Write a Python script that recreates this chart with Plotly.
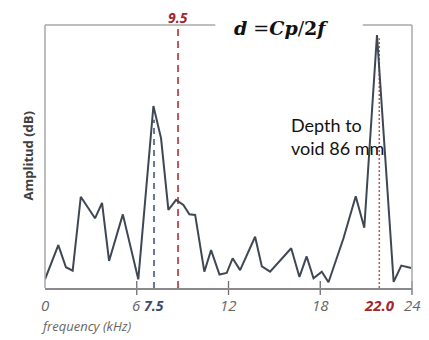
import plotly.graph_objects as go

# spectrum (frequency kHz, amplitude in relative units)
freq = [0, 0.87, 1.37, 1.81, 2.34, 3.27, 3.73, 4.19, 5.09, 6.1, 7.09, 7.59, 8.07, 8.57,
        9.05, 9.44, 9.82, 10.42, 10.86, 11.41, 11.88, 12.27, 12.76, 13.74, 14.18, 14.72,
        16.1, 16.64, 17.11, 17.56, 18.1, 18.54, 19.52, 20.32, 20.88, 21.71, 22.8, 23.3, 23.95]
amp = [3.3, 16.3, 7.9, 6.6, 34.7, 26.5, 32.4, 10.3, 28.0, 3.3, 69.2, 56.9, 29.7, 33.5,
       31.6, 28.0, 27.8, 6.2, 14.4, 5.1, 5.7, 11.3, 6.8, 19.5, 8.2, 6.2,
       15.1, 4.2, 12.0, 3.7, 6.2, 2.2, 18.9, 34.9, 22.9, 96.2, 2.3, 8.5, 7.6]

tick_vals = [0, 6, 12, 18, 24]
tick_text = ["0", "6", "12", "18", "24"]
cross_ticks = [6, 12, 18, 24]

peak1_x, peak1_label, peak1_top = 7.13, "7.5", 64
ref_x, ref_label = 8.7, "9.5"
peak2_x, peak2_label, peak2_top = 21.86, "22.0", 95

fig = go.Figure()

fig.add_trace(go.Scatter(x=[peak1_x, peak1_x], y=[0, peak1_top], mode="lines",
                         line=dict(color="#6a7794", width=2, dash="6px,5px"),
                         hoverinfo="skip"))
fig.add_trace(go.Scatter(x=[ref_x, ref_x], y=[0, 100], mode="lines",
                         line=dict(color="#c0565b", width=2, dash="7px,5px"),
                         hoverinfo="skip"))
fig.add_trace(go.Scatter(x=[peak2_x, peak2_x], y=[0, peak2_top], mode="lines",
                         line=dict(color="#c0565b", width=1.5, dash="2px,2px"),
                         hoverinfo="skip"))
fig.add_trace(go.Scatter(x=freq, y=amp, mode="lines",
                         line=dict(color="#3e4753", width=2)))
fig.add_trace(go.Scatter(x=cross_ticks, y=[0] * len(cross_ticks), mode="markers",
                         marker=dict(symbol="line-ns-open", size=10, color="#6e6e6e",
                                     line=dict(color="#6e6e6e", width=1.3)),
                         cliponaxis=False, hoverinfo="skip"))

frame = dict(color="#a8a8a8", width=1.5)
fig.add_shape(type="line", xref="paper", yref="paper", x0=0, x1=0, y0=0, y1=1, line=frame)
fig.add_shape(type="line", xref="paper", yref="paper", x0=1, x1=1, y0=0, y1=1, line=frame)
fig.add_shape(type="line", xref="paper", yref="paper", x0=0, x1=0.464, y0=1, y1=1, line=frame)
fig.add_shape(type="line", xref="paper", yref="paper", x0=0.866, x1=1, y0=1, y1=1, line=frame)

fig.update_layout(
    width=429, height=340,
    margin=dict(l=45, r=17, t=25, b=52),
    paper_bgcolor="white", plot_bgcolor="white",
    showlegend=False,
    xaxis=dict(range=[0, 24], showgrid=False, zeroline=False,
               showline=True, linecolor="#8a8a8a", linewidth=2,
               tickmode="array", tickvals=tick_vals, ticktext=tick_text,
               ticks="", showticklabels=False, fixedrange=True),
    yaxis=dict(range=[0, 100], showgrid=False, zeroline=False, showline=False,
               showticklabels=False, ticks="", fixedrange=True),
)

for v, t in zip(tick_vals, tick_text):
    fig.add_annotation(x=v, y=0, yref="y", yshift=-17, text="<i>" + t + "</i>",
                       showarrow=False, xanchor="center", yanchor="middle",
                       font=dict(family="Open Sans", size=15, color="#666666"))

fig.add_annotation(x=peak1_x, y=0, yref="y", yshift=-17, text="<b><i>" + peak1_label + "</i></b>",
                   showarrow=False, xanchor="center", yanchor="middle",
                   font=dict(family="Open Sans", size=14, color="#3c4a6b"))
fig.add_annotation(x=peak2_x, y=0, yref="y", yshift=-17, text="<b><i>" + peak2_label + "</i></b>",
                   showarrow=False, xanchor="center", yanchor="middle",
                   font=dict(family="Open Sans", size=15, color="#a3262c"))
fig.add_annotation(x=ref_x, y=1, yref="paper", yshift=8, text="<b><i>" + ref_label + "</i></b>",
                   showarrow=False, xanchor="center", yanchor="middle",
                   font=dict(family="Open Sans", size=14, color="#a3262c"))

fig.add_annotation(x=0, xref="paper", xshift=-6, y=0, yref="paper", yshift=-38,
                   text="<i>frequency (kHz)</i>", showarrow=False,
                   xanchor="left", yanchor="middle",
                   font=dict(family="Open Sans", size=13, color="#666666"))
fig.add_annotation(x=0, xref="paper", xshift=-18, y=0.5, yref="paper",
                   text="<b>Amplitud (dB)</b>", showarrow=False, textangle=-90,
                   xanchor="center", yanchor="middle",
                   font=dict(family="Open Sans", size=13, color="#404040"))

fig.add_annotation(x=0.51, xref="paper", y=1, yref="paper", yshift=-3,
                   text="<b><i>d</i></b> =<b><i>Cp</i></b>/<b>2</b><b><i>f</i></b>",
                   showarrow=False, xanchor="left", yanchor="middle",
                   font=dict(family="DejaVu Serif", size=19, color="#111111"))

fig.add_annotation(x=0.666, xref="paper", y=0.575, yref="paper",
                   text="Depth to<br>void 86 mm", showarrow=False, align="left",
                   xanchor="left", yanchor="middle",
                   font=dict(family="Lato", size=18, color="#111111"))

fig.write_html("out.html", config={"displayModeBar": False},
               post_script="document.body.style.margin='0';")
